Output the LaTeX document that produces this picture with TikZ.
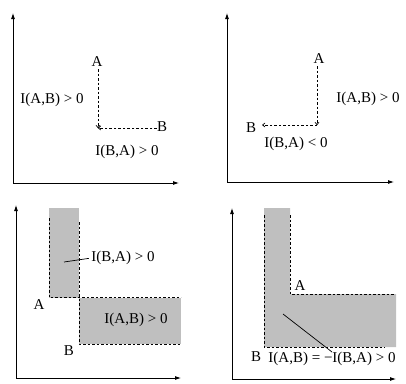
\documentclass[tikz,border=0pt]{standalone}
\usepackage{fontspec}
\setmainfont{Liberation Serif}
\usetikzlibrary{arrows.meta}
\begin{document}
\begin{tikzpicture}[x=1pt,y=-1pt,
  axis/.style={line width=0.8pt,-{Latex[length=6pt,width=4pt]}},
  dsh/.style={line width=0.7pt,dash pattern=on 2.5pt off 2pt},
  darrow/.style={dsh,-{To[length=3pt,width=4.5pt]}},
  lbl/.style={font=\fontsize{15}{17}\selectfont, inner sep=0pt},
  region/.style={fill=black!25, draw=none},
  lead/.style={line width=0.7pt},
]
\useasboundingbox (0,0) rectangle (406,383);

% ---------- panel 1 ----------
\coordinate (o1) at (13,183);
\coordinate (y1) at (13,13);
\coordinate (x1) at (179,183);
\draw[axis] (o1) -- (y1);
\draw[axis] (o1) -- (x1);
\node[lbl] (A1) at (97,62) {A};
\node[lbl] (B1) at (162,127) {B};
\coordinate (c1) at (98,128);
\draw[darrow, shorten <=2pt] (A1.south -| c1) -- (c1);
\draw[darrow] (B1.west |- c1) -- (c1);
\node[lbl] (L1a) at (52,100) {I(A,B) > 0};
\node[lbl] (L1b) at (127,152) {I(B,A) > 0};

% ---------- panel 2 ----------
\coordinate (o2) at (227,182);
\coordinate (y2) at (227,13);
\coordinate (x2) at (394,182);
\draw[axis] (o2) -- (y2);
\draw[axis] (o2) -- (x2);
\node[lbl] (A2) at (319,59) {A};
\node[lbl] (B2) at (251,128) {B};
\coordinate (c2) at (317,125);
\draw[darrow, shorten <=2pt] (A2.south -| c2) -- (c2);
\draw[darrow, shorten >=6pt] (c2) -- (B2.east |- c2);
\node[lbl] (L2a) at (368,99) {I(A,B) > 0};
\node[lbl] (L2b) at (296,144) {I(B,A) < 0};

% ---------- panel 3 ----------
\coordinate (o3) at (16,378);
\coordinate (y3) at (16,205);
\coordinate (x3) at (181,378);
\fill[region] (49,208) rectangle (79,297.5);
\fill[region] (79,297.5) rectangle (181,344);
\draw[dsh] (49,218) -- (49,297.5) -- (181,297.5);
\draw[dsh] (79,222) -- (79,344) -- (181,344);
\draw[axis] (o3) -- (y3);
\draw[axis] (o3) -- (x3);
\node[lbl] (L3a) at (123,258) {I(B,A) > 0};
\coordinate (p3) at (64,262);
\draw[lead, shorten >=2.5pt] (p3) -- (L3a.west);
\node[lbl] (A3) at (39,305) {A};
\node[lbl] (L3b) at (136,320) {I(A,B) > 0};
\node[lbl] (B3) at (69,351) {B};

% ---------- panel 4 ----------
\coordinate (o4) at (232,379);
\coordinate (y4) at (232,208);
\coordinate (x4) at (396,379);
\fill[region] (264,208) -- (290,208) -- (290,294) -- (396,294) -- (396,347) -- (264,347) -- cycle;
\draw[dsh] (264,215) -- (264,347) -- (385,347);
\draw[dsh] (290,215) -- (290,294) -- (395,294);
\draw[axis] (o4) -- (y4);
\draw[axis] (o4) -- (x4);
\node[lbl] (A4) at (300,286) {A};
\node[lbl] (L4) at (332,359) {I(A,B) = −I(B,A) > 0};
\coordinate (p4) at (283,314);
\draw[lead] (p4) -- (L4.north);
\node[lbl] (B4) at (256,357) {B};
\end{tikzpicture}
\end{document}
